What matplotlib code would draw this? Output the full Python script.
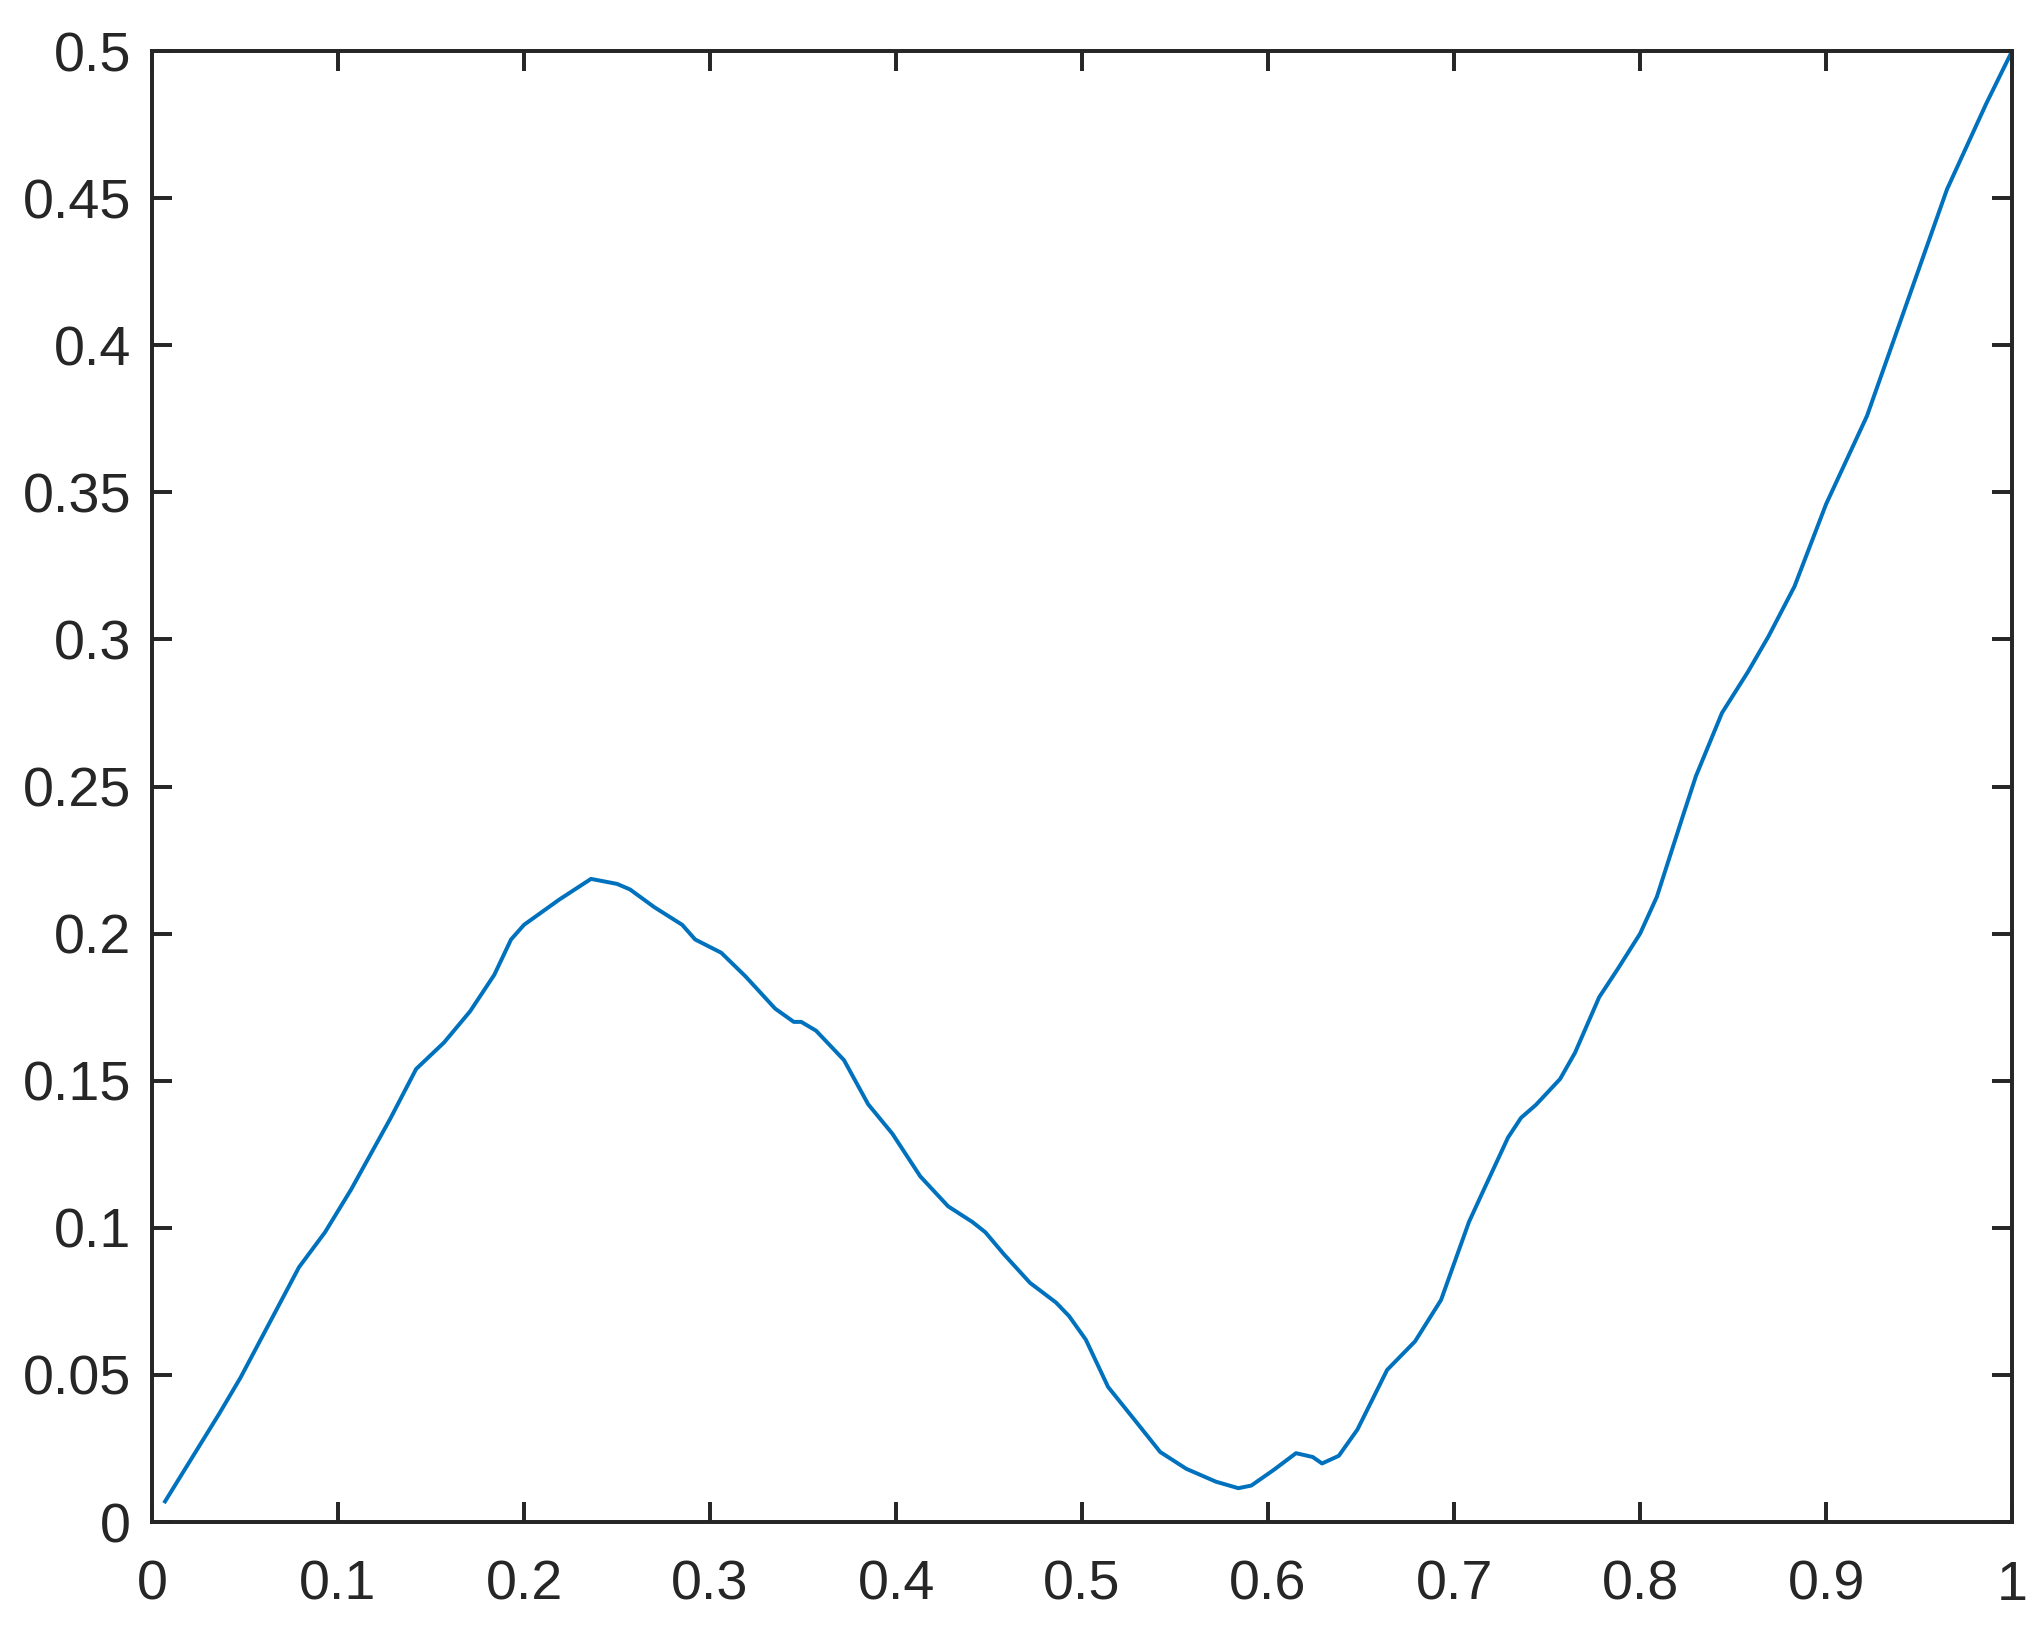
import numpy as np
from matplotlib import pyplot as plt

# values
x_vals = [0.007, 0.036, 0.0475, 0.079, 0.093, 0.107, 0.128, 0.142, 0.157, 0.171,
          0.184, 0.193, 0.200, 0.219, 0.236, 0.250, 0.257, 0.270, 0.285, 0.292,
          0.306, 0.319, 0.335, 0.345, 0.349, 0.357, 0.372, 0.385, 0.398, 0.413,
          0.428, 0.441, 0.448, 0.458, 0.472, 0.486, 0.493, 0.502, 0.514, 0.528,
          0.542, 0.556, 0.572, 0.584, 0.591, 0.603, 0.615, 0.624, 0.629, 0.638,
          0.648, 0.664, 0.679, 0.693, 0.708, 0.716, 0.729, 0.736, 0.744, 0.757,
          0.765, 0.778, 0.788, 0.800, 0.809, 0.823, 0.830, 0.844, 0.858, 0.869,
          0.883, 0.900, 0.922, 0.946, 0.965, 0.986, 1.000]
y_vals = [0.007, 0.0367, 0.049, 0.0866, 0.0985, 0.113, 0.137, 0.154, 0.163, 0.1736,
          0.186, 0.198, 0.203, 0.2116, 0.2186, 0.2169, 0.215, 0.209, 0.203, 0.198,
          0.1935, 0.1855, 0.1745, 0.170, 0.170, 0.167, 0.157, 0.142, 0.132, 0.1175,
          0.1073, 0.102, 0.0985, 0.091, 0.0813, 0.0746, 0.070, 0.062, 0.0459, 0.0349,
          0.0238, 0.0181, 0.0137, 0.0115, 0.0124, 0.0177, 0.0234, 0.0221, 0.0199, 0.0225,
          0.0314, 0.0517, 0.0614, 0.0755, 0.102, 0.113, 0.1307, 0.1374, 0.1418, 0.1506,
          0.1595, 0.1784, 0.188, 0.200, 0.2125, 0.240, 0.2535, 0.275, 0.289, 0.301,
          0.318, 0.346, 0.376, 0.419, 0.453, 0.482, 0.500]

x_ticks = np.arange(0, 1.01, 0.1)
x_labels = ['0', '0.1', '0.2', '0.3', '0.4', '0.5', '0.6', '0.7', '0.8', '0.9', '1']
y_ticks = np.arange(0, 0.51, 0.05)
y_labels = ['0', '0.05', '0.1', '0.15', '0.2', '0.25', '0.3', '0.35', '0.4', '0.45', '0.5']

plt.rcParams['font.family'] = ['Liberation Sans', 'DejaVu Sans']
axis_color = '#262626'

fig = plt.figure(figsize=(2038 / 300, 1635 / 300), dpi=300)
ax = fig.add_axes([0.0746, 0.0691, 0.9127, 0.8997])

ax.plot(x_vals, y_vals, color='#0072BD', linewidth=0.95, solid_joinstyle='round')

ax.set_xlim(0, 1)
ax.set_ylim(0, 0.5)
ax.set_xticks(x_ticks)
ax.set_xticklabels(x_labels)
ax.set_yticks(y_ticks)
ax.set_yticklabels(y_labels)

for s in ax.spines.values():
    s.set_color(axis_color)
    s.set_linewidth(0.95)
ax.tick_params(direction='in', length=4.8, width=0.95, colors=axis_color,
               labelsize=13.4, top=True, right=True)
ax.tick_params(axis='x', pad=9)
ax.tick_params(axis='y', pad=5)

fig.savefig('out.png', dpi=300)
